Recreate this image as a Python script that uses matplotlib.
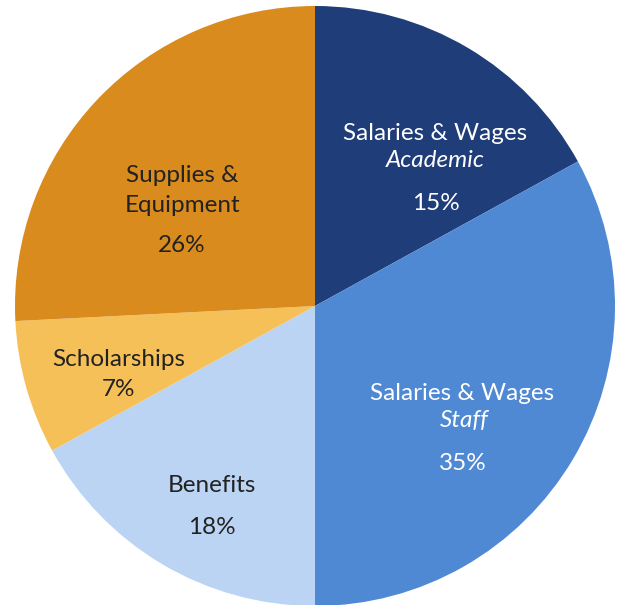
import matplotlib.pyplot as plt

####### DATA #######

categories = ["Salaries & Wages Academic", "Salaries & Wages Staff", "Benefits",
              "Scholarships", "Supplies & Equipment"]
# percentages printed on the chart
pct_labels = [15, 35, 18, 7, 26]
# slice sizes as actually drawn in the picture (they do not follow the labels exactly)
slice_sizes = [17.0, 33.0, 17.0, 7.2, 25.8]
colors = ["#1f3d78", "#5089d3", "#bcd4f4", "#f6c058", "#d98b1e"]
text_colors = ["white", "white", "#222222", "#222222", "#222222"]

####### FIGURE #######

W, H = 621, 605
CX, CY, R = 315, 306, 300   # pie centre and radius in pixels


def px(x, y):
    """pixel position -> data coords (pie radius = 1)"""
    return (x - CX) / R, (CY - y) / R


fig = plt.figure(figsize=(W / 100, H / 100), dpi=100)
ax = fig.add_axes([0, 0, 1, 1])

ax.pie(slice_sizes, colors=colors, startangle=90, counterclock=False, radius=1,
       wedgeprops=dict(linewidth=0))

ax.set_xlim(-CX / R, (W - CX) / R)
ax.set_ylim(-(H - CY) / R, CY / R)
ax.set_aspect("equal")
ax.axis("off")

fs = 17.5
font = "Lato"

# label lines: (slice index, text, italic, pixel x, pixel y)
lines = [
    (0, "Salaries & Wages", False, 435, 134),
    (0, "Academic", True, 435, 161),
    (0, f"{pct_labels[0]}%", False, 436, 204),
    (1, "Salaries & Wages", False, 462, 394),
    (1, "Staff", True, 464, 421),
    (1, f"{pct_labels[1]}%", False, 463, 464),
    (2, "Benefits", False, 212, 486),
    (2, f"{pct_labels[2]}%", False, 212, 527),
    (3, "Scholarships", False, 119, 360),
    (3, f"{pct_labels[3]}%", False, 119, 390),
    (4, "Supplies &", False, 182, 176),
    (4, "Equipment", False, 183, 206),
    (4, f"{pct_labels[4]}%", False, 182, 246),
]

for i, txt, it, x, y in lines:
    ax.text(*px(x, y), txt, ha="center", va="center", fontsize=fs,
            family=font, style="italic" if it else "normal",
            color=text_colors[i])

fig.savefig("out.png", dpi=100)
